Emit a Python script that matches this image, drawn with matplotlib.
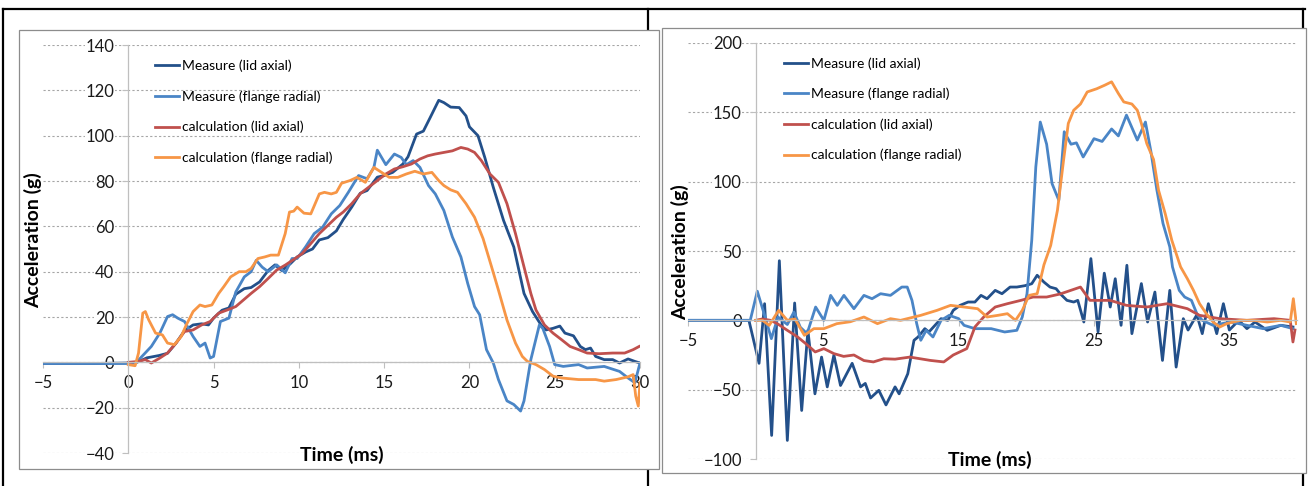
import matplotlib.pyplot as plt
from matplotlib.lines import Line2D
from matplotlib.patches import Rectangle

plt.rcParams['font.family'] = ['Lato', 'DejaVu Sans']

W, H = 1313, 486

labels = ["Measure (lid axial)", "Measure (flange radial)",
          "calculation (lid axial)", "calculation (flange radial)"]
colors = ["#23508A", "#4A85C6", "#C0504D", "#F79646"]

# ---- left chart (time in ms, acceleration in g) ----
left_lid_meas_t = [-5, -2, 0, 0.5, 1.1, 1.8, 2.3, 2.8, 3.3, 3.8, 4.3, 4.7, 5.0, 5.5, 5.9, 6.3, 6.8, 7.2, 7.7,
                   8.2, 8.6, 9.0, 9.5, 9.9, 10.4, 10.8, 11.2, 11.7, 12.2, 12.6, 13.1, 13.6, 14.0, 14.6, 15.0,
                   15.5, 16.1, 16.4, 16.9, 17.3, 17.7, 18.2, 18.5, 18.9, 19.4, 19.8, 20.0, 20.5, 20.9, 21.4,
                   22.0, 22.6, 23.2, 23.7, 24.2, 24.5, 24.9, 25.3, 25.6, 26.1, 26.5, 26.8, 27.1, 27.4, 27.9,
                   28.4, 28.8, 29.3, 29.7, 30]
left_lid_meas_g = [-0.5, -0.5, -0.3, 0, 2, 3, 4, 8.5, 14, 16.5, 17, 16.5, 19.5, 23, 24, 30, 32.5, 33, 35.5,
                   40.5, 43, 40.5, 43.5, 46.5, 48.7, 50, 54, 55, 58, 63, 68.5, 74.6, 75.8, 81.7, 82.4,
                   83.8, 87.5, 90.7, 100.7, 102, 108, 115.6, 114.6, 112.6, 112.4, 108.7, 103.9, 100, 90.4, 77.2,
                   62.6, 50.9, 30.4, 22.4, 16.5, 14.3, 15, 16, 12.9, 11.7, 7, 5.6, 6.3, 2.6, 1.2,
                   1.2, -0.3, 1.5, 0.4, -0.3]

left_flange_meas_t = [-5, -2, 0, 0.4, 0.6, 1.35, 1.85, 2.3, 2.6, 2.9, 3.3, 3.8, 4.2, 4.5, 4.8, 5.0, 5.4, 5.9,
                      6.3, 6.8, 7.2, 7.5, 7.85, 8.2, 8.7, 9.2, 9.6, 9.9, 10.4, 10.9, 11.4, 11.9, 12.4, 12.9,
                      13.5, 14.0, 14.4, 14.6, 15.1, 15.6, 16.0, 16.3, 16.7, 17.1, 17.6, 18.0, 18.5, 19.0,
                      19.5, 19.9, 20.3, 20.6, 21.0, 21.4, 21.7, 22.2, 22.6, 23.0, 23.2, 23.6, 24.1, 24.3,
                      24.7, 25.0, 25.5, 26.4, 26.9, 27.9, 28.8, 29.3, 29.7, 30]
left_flange_meas_g = [-0.5, -0.5, -0.5, -0.3, 1, 7, 12.9, 20.2, 21, 19.5, 18, 11.4, 7, 8.5, 1.9, 2.6, 18, 19.5,
                      31, 37.7, 40, 45, 42, 40, 43, 39.5, 45.8, 45.8, 51, 56.8, 59.7, 65.5, 69.2, 75,
                      82.4, 81, 86, 93.6, 87.2, 91.9, 90.4, 87.2, 89, 86, 78, 74.3, 67, 55.3,
                      46.5, 34.8, 24.6, 21, 5.6, -0.3, -7.6, -17, -18.6, -21.5, -17, 1.2, 16.5, 15,
                      7, -1, -1.8, -1, -2.5, -1.8, -4, -6.9, -9, -0.3]

left_lid_calc_t = [0, 0.6, 1.0, 1.35, 1.85, 2.3, 2.8, 3.3, 3.8, 4.3, 4.8, 5.3, 5.8, 6.3, 6.75, 7.2, 7.7, 8.2,
                   8.7, 9.2, 9.7, 10.2, 10.7, 11.2, 11.7, 12.2, 12.6, 13.1, 13.6, 14.1, 14.6, 15.1, 15.6,
                   16.1, 16.6, 17.1, 17.55, 18.0, 18.5, 19.0, 19.5, 19.9, 20.3, 20.7, 21.2, 21.7, 22.2,
                   22.7, 23.2, 23.6, 23.9, 24.4, 24.9, 25.4, 25.9, 26.4, 26.9, 27.6, 28.4, 29.1, 29.6, 29.95]
left_lid_calc_g = [0, 0.4, 1.2, -0.3, 1.9, 4.1, 8.5, 13.6, 14.3, 16.5, 18, 21.7, 23.1, 24.6, 27.5, 30.4, 33.4, 37,
                   40.7, 42.9, 45.4, 48, 52.4, 56.8, 60.4, 64, 66.3, 70, 74.4, 77.3, 80.2, 83.1, 85.3,
                   86.3, 87.5, 89.7, 91.1, 91.9, 92.6, 93.3, 94.8, 94.1, 92.6, 89, 83.1, 79.4, 70,
                   56.8, 42.1, 30.4, 23.1, 16.5, 12.9, 10, 7, 5.6, 4.1, 3.8, 4.1, 4.1, 5.6, 7]

left_flange_calc_t = [0, 0.4, 0.6, 0.85, 1.0, 1.2, 1.6, 2.0, 2.3, 2.7, 3.1, 3.4, 3.8, 4.2, 4.5, 4.9, 5.3, 5.6,
                      6.0, 6.5, 6.9, 7.2, 7.6, 8.0, 8.35, 8.8, 9.2, 9.45, 9.7, 9.9, 10.3, 10.7, 11.2, 11.5,
                      11.9, 12.2, 12.5, 13.0, 13.4, 13.9, 14.4, 14.85, 15.3, 15.8, 16.3, 16.8, 17.3, 17.8,
                      18.2, 18.5, 18.9, 19.3, 19.8, 20.3, 20.8, 21.3, 21.7, 22.2, 22.7, 23.1, 23.4, 23.9,
                      24.4, 24.9, 25.4, 26.4, 27.4, 27.9, 28.6, 29.3, 29.6, 29.75, 29.9, 30]
left_flange_calc_g = [-1, -1.5, 4.1, 21.7, 22.4, 18.7, 12.9, 12.1, 8.5, 7.8, 11.4, 16.5, 22.4, 25.3, 24.6, 25.3,
                      30.4, 33.4, 37.7, 40, 40, 41.4, 45.8, 46.5, 47.3, 47.3, 56.8, 66.3, 66.7, 68.5, 65.8,
                      65.5, 74.3, 75, 74.3, 75, 79, 80.2, 81.6, 79.4, 86, 83.8, 81.6, 81.6, 83.1, 84.3,
                      83.1, 83.8, 80.2, 78, 76.1, 75, 70, 64, 54.6, 42.1, 31.9, 18.7, 8.5, 2.6, 0.4, -1,
                      -3.2, -6.1, -6.9, -7.6, -7.6, -8.3, -7.6, -6.4, -5.4, -14.9, -19.3, -9]

# ---- right chart ----
right_lid_meas_t = [-5, -0.5, 0.25, 0.66, 1.18, 1.75, 2.34, 2.88, 3.4, 3.86, 4.38, 4.87, 5.29, 5.78, 6.27,
                    7.13, 7.75, 8.1, 8.49, 9.1, 9.63, 10.3, 10.6, 11.24, 11.7, 12.0, 12.5, 12.8, 13.25,
                    13.7, 14.2, 14.6, 15.1, 15.7, 16.2, 16.65, 17.1, 17.7, 18.2, 18.8, 19.3, 19.9, 20.4,
                    20.8, 21.3, 21.75, 22.2, 22.5, 23.0, 23.5, 23.8, 24.25, 24.77, 25.3, 25.76, 26.2,
                    26.57, 27.0, 27.43, 27.8, 28.5, 28.96, 29.5, 30.06, 30.6, 31.07, 31.6, 31.95, 32.6,
                    33.0, 33.45, 34.07, 34.56, 35.0, 35.7, 36.3, 36.9, 37.8, 38.8, 39.7]
right_lid_meas_g = [0, 0, -31, 12, -83, 43, -86.6, 12.5, -65, -7.2, -53, -26.5, -48, -25, -47,
                    -31, -48, -45.5, -56, -50.5, -61, -48, -53, -38.5, -14.4, -12, -6, -8.4, -3.6,
                    1.2, 0, 7.2, 10.8, 13.2, 13.2, 18, 15.6, 21.6, 19.2, 24, 24, 25, 26.4,
                    32.5, 27.6, 24, 22.8, 19.2, 14.4, 13.2, 14.4, -1.2, 44.5, -8.4, 34, 9.6,
                    30, -3.6, 39.7, -9.6, 26.5, -1.2, 20.4, -28.9, 21.6, -33.7, 1.2, -7, 4,
                    -9.6, 12, -9.6, 12, -7, 0, -6, -1.2, -7.2, -3.6, -4.8]

right_flange_meas_t = [-5, -0.4, 0.12, 0.66, 1.16, 1.65, 2.34, 2.83, 3.3, 3.8, 4.43, 5.04, 5.54, 6.03, 6.52,
                       7.26, 8.0, 8.6, 9.23, 9.96, 10.8, 11.2, 11.55, 11.9, 12.2, 12.6, 13.1, 13.7, 14.3,
                       15.0, 15.4, 16.2, 17.4, 18.4, 19.3, 19.7, 20.05, 20.4, 20.7, 21.03, 21.5, 21.9,
                       22.4, 22.8, 23.3, 23.7, 24.2, 25.0, 25.6, 26.3, 26.8, 27.4, 28.2, 28.8, 29.2,
                       29.65, 30.1, 30.6, 30.8, 31.3, 31.7, 32.2, 32.6, 33.0, 33.8, 35.1, 36.3, 37.5,
                       38.8, 39.7]
right_flange_meas_g = [0, 0, 21, 3.6, -13.2, 2.4, -3, 6, -5, -9.6, 9.6, 0, 18, 10.8, 18,
                       8.4, 18, 15.6, 19.2, 18, 24, 24, 14.4, -2.4, -14.4, -7.2, -12, 0, 3.6,
                       1.2, -3.6, -6, -6, -8.4, -7.2, 2.4, 19.2, 57.7, 110.6, 143, 127, 98.6,
                       86.6, 136, 127, 128, 117.8, 131, 129, 138, 133, 148, 130, 143, 122,
                       93.8, 69.8, 53, 38.5, 21.6, 16.8, 14.4, 4.8, 0, -3.6, -1.2, -3.6, -6,
                       -3.6, -6]

right_lid_calc_t = [0, 0.5, 1.1, 1.6, 2.34, 3.1, 3.7, 4.4, 5.04, 5.78, 6.5, 7.26, 8.0, 8.7, 9.47, 10.3,
                    11.4, 12.9, 13.9, 14.6, 15.6, 16.2, 16.85, 17.7, 18.6, 19.6, 20.5, 21.5, 22.5, 24.0,
                    24.7, 26.2, 27.4, 28.9, 30.4, 31.9, 32.8, 34.3, 36.3, 38.3, 39.5, 39.7, 39.85]
right_lid_calc_g = [0, 1, 0, -2.4, -7.2, -12, -16.8, -22.8, -20.4, -24, -26, -25, -29, -30, -27.7, -28,
                    -26.5, -28.9, -30, -25, -20.4, -4.8, 2.4, 9.6, 12, 14.4, 16.8, 16.8, 19, 24,
                    14.4, 14.4, 10.8, 9.6, 12, 8.4, 3.6, 1.2, 0, 1.2, 0, -15.6, -7]

right_flange_calc_t = [0, 0.5, 1.0, 1.7, 2.34, 2.9, 3.6, 4.3, 5.04, 6.0, 7.0, 8.0, 9.0, 9.96, 10.7, 12.2,
                       13.4, 14.4, 15.4, 16.4, 17.1, 17.9, 18.6, 19.2, 19.7, 20.2, 20.8, 21.3, 21.8, 22.3,
                       22.75, 23.1, 23.5, 24.0, 24.5, 25.2, 25.8, 26.3, 26.8, 27.2, 27.8, 28.2, 28.5,
                       28.9, 29.4, 29.77, 30.26, 30.75, 31.4, 31.9, 32.35, 32.8, 33.3, 33.8, 34.3, 34.8,
                       35.8, 36.8, 37.8, 38.8, 39.5, 39.73, 39.95]
right_flange_calc_g = [0, 0, -3.6, 7.2, 0, 1, -10.8, -6, -6, -2.4, -1, 2.4, -2.4, 1.2, 0, 3.6,
                       7.2, 10.8, 9.6, 8.4, 2.4, 3.6, 4.8, 0, 7.2, 18, 19.2, 40, 54, 79.4,
                       115.4, 142, 151.5, 156, 164.7, 167, 169.6, 172, 163.6, 157.5, 156, 151.5, 142,
                       127.5, 116, 93.8, 77, 57.7, 38.5, 30, 21.6, 12, 4.8, -1.2, -4.8, -2.4,
                       0, 0, -1.2, 0, -1.2, 15.6, -2.4]


def fx(px):
    return px / W


def fy(py):
    return 1 - py / H


fig = plt.figure(figsize=(W / 100, H / 100), dpi=100)

# table cell borders (black) and the white chart areas on top of them
for x0, y0, x1, y1 in [(3, 9, 1305, 9), (3, 9, 3, 486), (648, 9, 648, 486), (1303, 9, 1303, 486)]:
    fig.add_artist(Line2D([fx(x0), fx(x1)], [fy(y0), fy(y1)], color="black", lw=1.6, zorder=-3))
for x0, y0, x1, y1 in [(19, 30, 659, 469), (662, 28, 1306, 473)]:
    fig.add_artist(Rectangle((fx(x0), fy(y1)), fx(x1 - x0), (y1 - y0) / H, facecolor="white",
                             edgecolor="#8C8C8C", lw=0.9, zorder=-2))


def make_chart(rect, series, xlim, xticks, ylim, yticks, leg_anchor, ylabel_pos, xlabel_pos):
    ax = fig.add_axes(rect)
    for (t, g), c, lab in zip(series, colors, labels):
        ax.plot(t, g, color=c, lw=2.0, label=lab)
    ax.set_xlim(*xlim)
    ax.set_ylim(*ylim)
    ax.set_xticks(xticks)
    ax.set_yticks(yticks)
    ax.spines[["top", "right"]].set_visible(False)
    ax.spines["left"].set_position(("data", 0))
    ax.spines["bottom"].set_position(("data", 0))
    for s in ("left", "bottom"):
        ax.spines[s].set_color("#BFBFBF")
        ax.spines[s].set_linewidth(0.9)
    ax.grid(axis="y", linestyle=(0, (2, 2)), color="#A6A6A6", lw=0.8)
    ax.set_axisbelow(True)
    ax.tick_params(axis="both", length=4, color="#BFBFBF", labelsize=12, labelcolor="#1a1a1a")
    ax.tick_params(axis="y", pad=6)
    ax.tick_params(axis="x", pad=5)
    for lbl in ax.get_yticklabels():
        lbl.set_bbox(dict(facecolor="white", edgecolor="none", pad=0.5))
    ax.legend(loc="upper left", bbox_to_anchor=leg_anchor, frameon=False, fontsize=10,
              handlelength=1.7, handletextpad=0.2, labelspacing=1.3, borderpad=0, borderaxespad=0)
    fig.text(fx(ylabel_pos[0]), fy(ylabel_pos[1]), "Acceleration (g)", rotation=90, ha="center",
             va="center", fontsize=14, fontweight="bold")
    fig.text(fx(xlabel_pos[0]), fy(xlabel_pos[1]), "Time (ms)", ha="center", va="center",
             fontsize=14, fontweight="bold")
    return ax


left_series = [(left_lid_meas_t, left_lid_meas_g), (left_flange_meas_t, left_flange_meas_g),
               (left_lid_calc_t, left_lid_calc_g), (left_flange_calc_t, left_flange_calc_g)]
right_series = [(right_lid_meas_t, right_lid_meas_g), (right_flange_meas_t, right_flange_meas_g),
                (right_lid_calc_t, right_lid_calc_g), (right_flange_calc_t, right_flange_calc_g)]

make_chart([fx(43), fy(453), (640 - 43) / W, (453 - 45) / H], left_series,
           (-5, 30), range(-5, 31, 5), (-40, 140), range(-40, 141, 20),
           (0.188, 0.964), (33, 240), (342, 455))
make_chart([fx(688), fy(459), (1297 - 688) / W, (459 - 43) / H], right_series,
           (-5, 40), range(-5, 36, 10), (-100, 200), range(-100, 201, 50),
           (0.158, 0.966), (680, 252), (990, 460))

fig.savefig("out.png", dpi=100)
